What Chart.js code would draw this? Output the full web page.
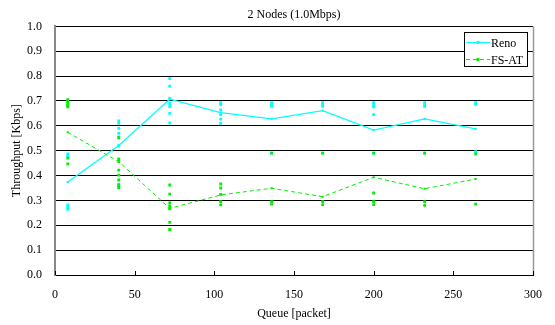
<!DOCTYPE html>
<html>
<head>
<meta charset="utf-8">
<script src="https://cdn.jsdelivr.net/npm/chart.js@4"></script>
<style>
  html, body { margin: 0; padding: 0; background: #fff; }
  #wrap { width: 555px; height: 325px; position: relative; }
</style>
</head>
<body>
<div id="wrap"><canvas id="chart"></canvas></div>
<script>
// Queue sizes (packets) used for each run
const queueSizes = [8, 40, 72, 104, 136, 168, 200, 232, 264];

// Average throughput per queue size
const renoMean = [0.374, 0.521, 0.707, 0.653, 0.628, 0.661, 0.583, 0.628, 0.588];
const fsatMean = [0.574, 0.456, 0.268, 0.322, 0.349, 0.315, 0.393, 0.347, 0.386];

// Individual runs per queue size
const renoRuns = [
    [0.487, 0.478, 0.282, 0.273, 0.264],
    [0.62, 0.61, 0.59, 0.57, 0.555, 0.52, 0.365, 0.355],
    [0.79, 0.76, 0.71, 0.69, 0.677, 0.65, 0.612],
    [0.693, 0.684, 0.664, 0.645, 0.627, 0.61],
    [0.693, 0.688, 0.683, 0.678, 0.49],
    [0.693, 0.685, 0.678, 0.49],
    [0.693, 0.685, 0.676, 0.645, 0.49],
    [0.693, 0.683, 0.678, 0.49],
    [0.693, 0.686, 0.496]
];
const fsatRuns = [
    [0.705, 0.698, 0.69, 0.683, 0.676, 0.47, 0.447],
    [0.552, 0.467, 0.457, 0.422, 0.402, 0.382, 0.362, 0.352],
    [0.362, 0.325, 0.29, 0.278, 0.266, 0.212, 0.183],
    [0.366, 0.35, 0.324, 0.295, 0.282],
    [0.49, 0.295, 0.285],
    [0.49, 0.295, 0.283],
    [0.49, 0.33, 0.295, 0.283],
    [0.49, 0.295, 0.28],
    [0.487, 0.285]
];

const yTicks = [0.0, 0.1, 0.2, 0.3, 0.4, 0.5, 0.6, 0.7, 0.8, 0.9, 1.0];
const xTicks = [0, 50, 100, 150, 200, 250, 300];

const renoColor = '#00ffff';
const fsatColor = '#00ee00';

const toPoints = (ys) => queueSizes.map((q, i) => ({ x: q, y: ys[i] }));
const runPoints = (runs) => runs.flatMap((vals, i) => vals.map(v => ({ x: queueSizes[i], y: v })));

Chart.defaults.font.family = "'Liberation Serif', 'Times New Roman', serif";
Chart.defaults.font.size = 12;
Chart.defaults.color = '#000';

// legend box drawn inside the plot (top right) + inner x ticks + right frame
const framePlugin = {
    id: 'frame',
    afterDatasetsDraw(chart) {
        const { ctx, chartArea } = chart;
        const xs = chart.scales.x;
        ctx.save();
        // right frame line
        ctx.strokeStyle = '#999';
        ctx.lineWidth = 1.5;
        ctx.beginPath();
        ctx.moveTo(chartArea.right + 0.5, chartArea.top);
        ctx.lineTo(chartArea.right + 0.5, chartArea.bottom);
        ctx.stroke();
        // small ticks inside plot on the x axis
        ctx.strokeStyle = '#000';
        ctx.lineWidth = 1;
        xTicks.forEach(v => {
            const px = Math.round(xs.getPixelForValue(v)) + 0.5;
            ctx.beginPath();
            ctx.moveTo(px, chartArea.bottom);
            ctx.lineTo(px, chartArea.bottom - 4);
            ctx.stroke();
        });
        ctx.restore();
    },
    afterDraw(chart) {
        const { ctx, chartArea } = chart;
        const w = 63, h = 34;
        const left = chartArea.right - 6 - w;
        const top = chartArea.top + 6;
        ctx.save();
        ctx.fillStyle = '#fff';
        ctx.fillRect(left, top, w, h);
        ctx.strokeStyle = '#000';
        ctx.lineWidth = 1;
        ctx.strokeRect(Math.round(left) + 0.5, Math.round(top) + 0.5, w, h);
        ctx.font = "12px 'Liberation Serif', 'Times New Roman', serif";
        ctx.textBaseline = 'middle';
        ctx.textAlign = 'left';
        [0, 1].forEach(i => {
            const ds = chart.data.datasets[i];
            const y = Math.round(top + 10 + i * 17) + 0.5;
            ctx.strokeStyle = ds.borderColor;
            ctx.lineWidth = 1;
            ctx.setLineDash(ds.borderDash || []);
            ctx.beginPath();
            ctx.moveTo(left + 2, y);
            ctx.lineTo(left + 26, y);
            ctx.stroke();
            ctx.setLineDash([]);
            ctx.fillStyle = ds.backgroundColor;
            ctx.fillRect(left + 12.5, y - 1.5, 3, 3);
            ctx.fillStyle = '#000';
            ctx.fillText(ds.label, left + 27, y + 1);
        });
        ctx.restore();
    }
};

new Chart(document.getElementById('chart'), {
    type: 'scatter',
    data: {
        datasets: [
            {
                label: 'Reno',
                data: toPoints(renoMean),
                showLine: true,
                borderColor: renoColor,
                backgroundColor: renoColor,
                borderWidth: 1.3,
                pointStyle: 'rect',
                pointRadius: 1.5,
                pointBorderWidth: 0,
                order: 2
            },
            {
                label: 'FS-AT',
                data: toPoints(fsatMean),
                showLine: true,
                borderColor: fsatColor,
                backgroundColor: fsatColor,
                borderWidth: 1,
                borderDash: [4, 3],
                pointStyle: 'rect',
                pointRadius: 1.5,
                pointBorderWidth: 0,
                order: 1
            },
            {
                label: 'Reno runs',
                data: runPoints(renoRuns),
                backgroundColor: renoColor,
                borderColor: renoColor,
                pointStyle: 'rect',
                pointRadius: 2,
                pointBorderWidth: 0,
                order: 4
            },
            {
                label: 'FS-AT runs',
                data: runPoints(fsatRuns),
                backgroundColor: fsatColor,
                borderColor: fsatColor,
                pointStyle: 'rect',
                pointRadius: 2,
                pointBorderWidth: 0,
                order: 3
            }
        ]
    },
    options: {
        responsive: true,
        maintainAspectRatio: false,
        animation: false,
        layout: { padding: { left: 0, right: 20, top: 0, bottom: 0 } },
        scales: {
            x: {
                type: 'linear',
                min: 0,
                max: 300,
                afterBuildTicks: (scale) => { scale.ticks = xTicks.map(v => ({ value: v })); },
                afterFit: (scale) => { scale.height = 50; },
                grid: { display: false, drawTicks: false },
                border: { display: true, color: '#000', width: 1 },
                ticks: { padding: 13, font: { size: 12 } },
                title: { display: true, text: 'Queue [packet]', padding: { top: 0, bottom: 4 }, font: { size: 12 } }
            },
            y: {
                min: 0,
                max: 1,
                afterBuildTicks: (scale) => { scale.ticks = yTicks.map(v => ({ value: v })); },
                afterFit: (scale) => { scale.width = 55; },
                grid: { color: '#000', lineWidth: 1, drawTicks: false },
                border: { display: true, color: '#888', width: 2 },
                ticks: { padding: 13, callback: (v) => Number(v).toFixed(1), font: { size: 12 } },
                title: { display: true, text: 'Throughput [Kbps]', padding: { top: 10, bottom: 0 }, font: { size: 12 } }
            }
        },
        plugins: {
            legend: { display: false },
            tooltip: { enabled: false },
            title: {
                display: true,
                text: '2 Nodes (1.0Mbps)',
                fullSize: false,
                font: { size: 12, weight: 'normal' },
                color: '#000',
                padding: { top: 8, bottom: 4 }
            }
        }
    },
    plugins: [framePlugin]
});
</script>
</body>
</html>
